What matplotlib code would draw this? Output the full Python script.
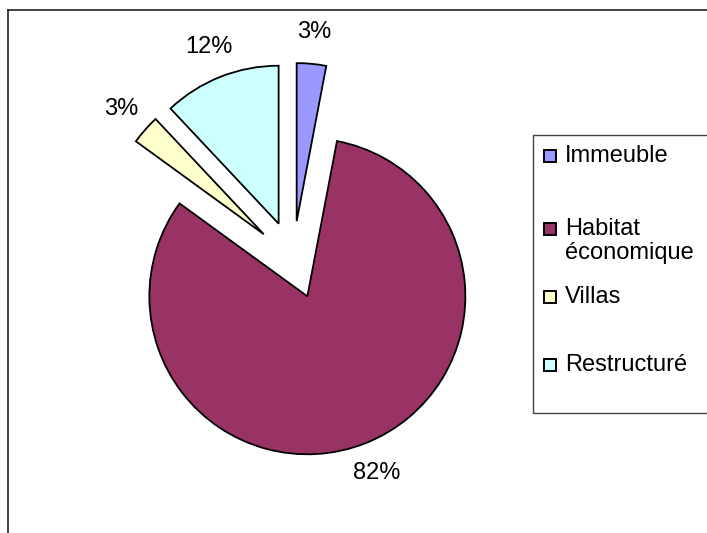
import matplotlib.pyplot as plt
from matplotlib.patches import Rectangle
from matplotlib.lines import Line2D

plt.rcParams['font.family'] = ['Liberation Sans', 'DejaVu Sans']

# data
labels = ['Immeuble', 'Habitat\néconomique', 'Villas', 'Restructuré']
values = [3, 82, 3, 12]
colors = ['#9999FF', '#993366', '#FFFFCC', '#CCFFFF']

W, H = 707, 533
fig = plt.figure(figsize=(W / 100, H / 100), dpi=100)

# pie centre and radius in pixels
cx, cy, r = 293, 260, 158
ax = fig.add_axes([0, 0, 1, 1])
wedges, texts, autotexts = ax.pie(values, colors=colors, startangle=90, counterclock=False,
                                  explode=[0.247] * 4, radius=1, autopct='%.0f%%', pctdistance=1.2,
                                  wedgeprops=dict(edgecolor='black', linewidth=1.3),
                                  textprops=dict(fontsize=17, color='black'))
ax.set_xlim(-cx / r, (W - cx) / r)
ax.set_ylim((cy - H) / r, cy / r)
ax.set_aspect('auto')
ax.axis('off')

def fx(px):
    return px / W

def fy(py):
    return 1 - py / H

# outer frame (left and top only visible)
fig.add_artist(Line2D([fx(8), fx(8)], [fy(10), 0], transform=fig.transFigure, color='#222222', lw=1.2))
fig.add_artist(Line2D([fx(8), 1], [fy(10), fy(10)], transform=fig.transFigure, color='#222222', lw=1.2))

# legend box drawn by hand
fig.add_artist(Rectangle((fx(533), fy(413)), fx(200), (413 - 135) / H, transform=fig.transFigure,
                         facecolor='white', edgecolor='#444444', lw=1.0))
ys = [156, 229, 297, 365]
for lab, col, y in zip(labels, colors, ys):
    fig.add_artist(Rectangle((fx(544), fy(y + 6)), 12 / W, 12 / H, transform=fig.transFigure,
                             facecolor=col, edgecolor='black', lw=1.4))
    fig.text(fx(565), fy(y - 11), lab, fontsize=17, va='top', ha='left', linespacing=1.1)

fig.savefig('out.png', dpi=100)
